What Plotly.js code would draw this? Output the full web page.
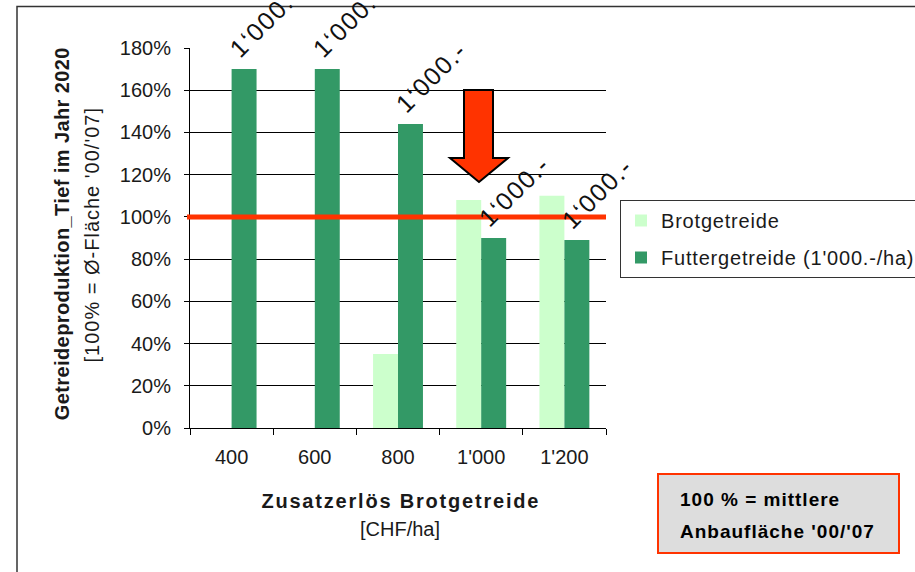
<!DOCTYPE html>
<html>
<head>
<meta charset="utf-8">
<script src="https://cdn.plot.ly/plotly-3.0.1.min.js"></script>
<style>
  html, body { margin: 0; padding: 0; background: #fff; }
  #chart { width: 915px; height: 572px; }
  .legendtext { letter-spacing: 0.8px; }
  .annotation[data-index="0"] text, .annotation[data-index="1"] text,
  .annotation[data-index="2"] text, .annotation[data-index="3"] text,
  .annotation[data-index="4"] text { letter-spacing: 1.6px; }
  .annotation[data-index="5"] text { letter-spacing: 0.4px; }
  .annotation[data-index="6"] text { letter-spacing: 1px; }
  .annotation[data-index="7"] text { letter-spacing: 1.8px; }
  .annotation[data-index="9"] text, .annotation[data-index="10"] text { letter-spacing: 1px; }
</style>
</head>
<body>
<div id="chart"></div>
<script>
// ---- data ----
const categories = ["400", "600", "800", "1'000", "1'200"];
const brotValues = [0, 0, 35, 108, 110];
const futterValues = [170, 170, 144, 90, 89];
const barLabels = ["1‘000.-", "1‘000.-", "1‘000.-", "1‘000.-", "1‘000.-"];
const yTickVals = [0, 20, 40, 60, 80, 100, 120, 140, 160, 180];
const yTickText = ["0%", "20%", "40%", "60%", "80%", "100%", "120%", "140%", "160%", "180%"];
const referenceLevel = 100;
const seriesNames = ["Brotgetreide", "Futtergetreide (1'000.-/ha)"];
const yTitleLines = ["Getreideproduktion_Tief im Jahr 2020", "[100% = Ø-Fläche '00/'07]"];
const xTitleLines = ["Zusatzerlös Brotgetreide", "[CHF/ha]"];
const noteLines = ["100 % = mittlere", "Anbaufläche '00/'07"];

// ---- layout helpers (pixel -> paper) ----
const W = 915, H = 572;
const M = { l: 190, r: 309, t: 48, b: 144 };
const PW = W - M.l - M.r, PH = H - M.t - M.b;
const px = x => (x - M.l) / PW;
const py = y => (H - M.b - y) / PH;

const FONT = '"Liberation Sans", Arial, sans-serif';
const TXT = '#1a1a1a';

const traces = [
  { type: 'bar', name: seriesNames[0], x: categories, y: brotValues,
    marker: { color: '#ccffcc', line: { width: 0 } }, legendgroup: 'a', hoverinfo: 'x+y' },
  { type: 'bar', name: seriesNames[1], x: categories, y: futterValues,
    marker: { color: '#339966', line: { width: 0 } }, legendgroup: 'b', hoverinfo: 'x+y' }
];

const annotations = [];
categories.forEach((c, i) => {
  annotations.push({
    xref: 'x', yref: 'y', x: i, y: futterValues[i], text: barLabels[i],
    showarrow: false, textangle: -45, xanchor: 'center', yanchor: 'middle',
    xshift: 33, yshift: 47, font: { family: FONT, size: 25, color: '#111' }
  });
});
annotations.push(
  { xref: 'paper', yref: 'paper', x: px(62), y: py(234), text: '<b>' + yTitleLines[0] + '</b>',
    showarrow: false, textangle: -90, xanchor: 'center', yanchor: 'middle',
    font: { family: FONT, size: 20, color: TXT } },
  { xref: 'paper', yref: 'paper', x: px(92), y: py(235), text: yTitleLines[1],
    showarrow: false, textangle: -90, xanchor: 'center', yanchor: 'middle',
    font: { family: FONT, size: 20, color: TXT } },
  { xref: 'paper', yref: 'paper', x: px(401), y: py(501), text: '<b>' + xTitleLines[0] + '</b>',
    showarrow: false, xanchor: 'center', yanchor: 'middle',
    font: { family: FONT, size: 20, color: TXT } },
  { xref: 'paper', yref: 'paper', x: px(400), y: py(529), text: xTitleLines[1],
    showarrow: false, xanchor: 'center', yanchor: 'middle',
    font: { family: FONT, size: 20, color: TXT } },
  { xref: 'paper', yref: 'paper', x: px(678), y: py(499), text: '<b>' + noteLines[0] + '</b>',
    showarrow: false, xanchor: 'left', yanchor: 'middle', align: 'left',
    font: { family: FONT, size: 19, color: '#000' } },
  { xref: 'paper', yref: 'paper', x: px(678), y: py(531), text: '<b>' + noteLines[1] + '</b>',
    showarrow: false, xanchor: 'left', yanchor: 'middle', align: 'left',
    font: { family: FONT, size: 19, color: '#000' } }
);

const arrowPath = 'M' + px(464) + ',' + py(90) + ' L' + px(493) + ',' + py(90) +
  ' L' + px(493) + ',' + py(158) + ' L' + px(508) + ',' + py(158) +
  ' L' + px(479) + ',' + py(182) + ' L' + px(450) + ',' + py(158) +
  ' L' + px(464) + ',' + py(158) + ' Z';

const shapes = [
  // outer frame
  { type: 'rect', xref: 'paper', yref: 'paper', x0: px(17), x1: px(930), y0: py(590), y1: py(6.5),
    line: { color: '#333', width: 1.5 }, fillcolor: 'rgba(0,0,0,0)', layer: 'below' },
  // reference line at 100 %
  { type: 'line', xref: 'paper', yref: 'y', x0: px(187), x1: 1, y0: referenceLevel, y1: referenceLevel,
    line: { color: '#ff3300', width: 5 } },
  // red arrow
  { type: 'path', xref: 'paper', yref: 'paper', path: arrowPath,
    fillcolor: '#ff3300', line: { color: '#000', width: 2 } },
  // note box
  { type: 'rect', xref: 'paper', yref: 'paper', x0: px(658), x1: px(899), y0: py(553), y1: py(474),
    fillcolor: '#dddddd', line: { color: '#ff3300', width: 2 } }
];

const layout = {
  width: W, height: H,
  margin: { l: M.l, r: M.r, t: M.t, b: M.b, autoexpand: false },
  paper_bgcolor: '#fff', plot_bgcolor: '#fff',
  font: { family: FONT, size: 20, color: TXT },
  barmode: 'group', bargap: 0.4, bargroupgap: 0,
  showlegend: true,
  legend: {
    x: px(620), y: py(200), xanchor: 'left', yanchor: 'top',
    xref: 'paper', yref: 'paper',
    bgcolor: '#fff', bordercolor: '#333', borderwidth: 1,
    font: { family: FONT, size: 20, color: TXT },
    traceorder: 'grouped', tracegroupgap: 8, itemwidth: 30
  },
  xaxis: {
    type: 'category', range: [-0.5, categories.length - 0.5], autorange: false,
    categoryorder: 'array', categoryarray: categories,
    showline: true, linecolor: '#000', linewidth: 1,
    ticks: 'outside', tickson: 'boundaries', ticklen: 6, tickcolor: '#000', tickwidth: 1,
    showgrid: false, zeroline: false, ticklabelstandoff: 11, tickangle: 0,
    tickfont: { family: FONT, size: 20, color: TXT }
  },
  yaxis: {
    range: [0, 180], autorange: false, tickvals: yTickVals, ticktext: yTickText,
    showline: true, linecolor: '#000', linewidth: 1,
    ticks: 'outside', ticklen: 5, tickcolor: '#000', tickwidth: 1,
    showgrid: true, gridcolor: '#000', gridwidth: 1, zeroline: false,
    ticklabelstandoff: 9,
    tickfont: { family: FONT, size: 20, color: TXT }
  },
  annotations: annotations,
  shapes: shapes
};

Plotly.newPlot('chart', traces, layout, { displayModeBar: false, staticPlot: true });
</script>
</body>
</html>
